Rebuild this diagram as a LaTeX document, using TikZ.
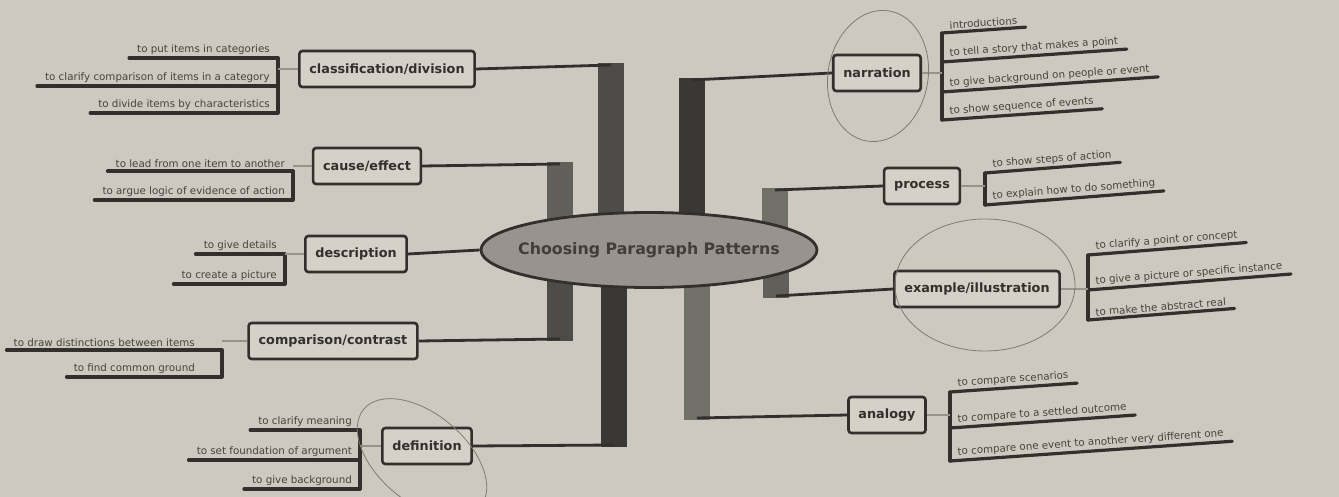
\documentclass[tikz,border=0pt]{standalone}
\usepackage{fontspec}
\setmainfont{DejaVu Sans}
\usetikzlibrary{positioning, shapes.geometric, backgrounds}

\definecolor{paper}{RGB}{205,201,192}
\definecolor{boxfill}{RGB}{213,209,201}
\definecolor{ink}{RGB}{50,47,44}
\definecolor{leafink}{RGB}{70,66,62}
\definecolor{hubfill}{RGB}{152,147,140}
\definecolor{graphite}{RGB}{128,122,116}
\definecolor{trunkA}{RGB}{58,56,53}
\definecolor{trunkB}{RGB}{78,76,72}
\definecolor{trunkC}{RGB}{96,95,90}
\definecolor{trunkD}{RGB}{112,111,104}

\tikzset{
  topic/.style={draw=ink, line width=2.6pt, fill=boxfill, rounded corners=3pt,
    minimum height=36pt, inner xsep=10pt, text=ink,
    font=\fontsize{12.8}{14}\selectfont\bfseries},
  leafL/.style={anchor=south east, inner xsep=8pt, inner ysep=3pt, text=leafink,
    font=\fontsize{10.3}{12}\selectfont},
  leafR/.style={leafL, anchor=south west},
  uline/.style={draw=ink, line width=3.2pt, line cap=round},
  branch/.style={draw=ink, line width=2.8pt},
  trunk/.style={line width=26pt},
  hint/.style={draw=graphite!70!paper, line width=1.2pt},
  ring/.style={draw=graphite, line width=0.8pt},
}

\begin{document}
\begin{tikzpicture}[x=1pt, y=-1pt]

% Paper
\begin{scope}[on background layer]
\fill[paper] (0,0) rectangle (1339,497);
\end{scope}
\useasboundingbox (0,0) rectangle (1339,497);

% Central topic
\node[ellipse, draw=ink, line width=2.8pt, fill=hubfill, inner xsep=-12pt,
  inner ysep=0pt, minimum height=75pt, text=ink!85!hubfill,
  font=\fontsize{15.8}{18}\selectfont\bfseries] (root) at (649,250) {Choosing Paragraph Patterns};

% Topics, left
\node[topic] (cls) at (387,69) {classification/division};
\node[topic] (cau) at (367,166) {cause/effect};
\node[topic] (des) at (356,254) {description};
\node[topic] (cmp) at (333,341) {comparison/contrast};
\node[topic] (def) at (427,446) {definition};

% Topics, right
\node[topic] (nar) at (877,73) {narration};
\node[topic] (pro) at (922,186) {process};
\node[topic] (exa) at (977,289) {example/illustration};
\node[topic] (ana) at (887,415) {analogy};

% Trunk ends
\coordinate (kCls) at (611,65);
\coordinate (kCau) at (560,164);
\coordinate (kCmp) at (560,339);
\coordinate (kDef) at (614,445);
\coordinate (kNar) at (692,80);
\coordinate (kPro) at (775,190);
\coordinate (kExa) at (776,296);
\coordinate (kAna) at (697,418);

% Trunks and branches
\begin{scope}[on background layer]
\draw[trunk, draw=trunkB] ([yshift=1.5pt]kCls) -- (kCls |- root);
\draw[trunk, draw=trunkC] ([yshift=1.5pt]kCau) -- (kCau |- root);
\draw[trunk, draw=trunkB] ([yshift=-1.5pt]kCmp) -- (kCmp |- root);
\draw[trunk, draw=trunkA] ([yshift=-1.5pt]kDef) -- (kDef |- root);
\draw[trunk, draw=trunkA] ([yshift=1.5pt]kNar) -- (kNar |- root);
\draw[trunk, draw=trunkD] ([yshift=1.5pt]kPro) -- (kPro |- root);
\draw[trunk, draw=trunkC] ([yshift=-1.5pt]kExa) -- (kExa |- root);
\draw[trunk, draw=trunkD] ([yshift=-1.5pt]kAna) -- (kAna |- root);
\draw[branch] (kCls) -- (cls.east);
\draw[branch] (kCau) -- (cau.east);
\draw[branch] (root.west) -- (des.east);
\draw[branch] (kCmp) -- (cmp.east);
\draw[branch] (kDef) -- (def.east);
\draw[branch] (kNar) -- (nar.west);
\draw[branch] (kPro) -- (pro.west);
\draw[branch] (kExa) -- (exa.west);
\draw[branch] (kAna) -- (ana.west);
\end{scope}

% Leaves: classification/division
\foreach \y/\txt [count=\i] in {58/to put items in categories, 86/to clarify comparison of items in a category, 113/to divide items by characteristics} {
  \node[leafL] (cls\i) at (278,\y) {\txt};
  \draw[uline] (cls\i.south west) -- (cls\i.south east);
}
\draw[uline] (cls1.south east) -- (cls3.south east);
\draw[hint] (cls.west) -- (cls.west -| cls1.south east);

% Leaves: cause/effect
\foreach \y/\txt [count=\i] in {171/to lead from one item to another, 200/to argue logic of evidence of action} {
  \node[leafL] (cau\i) at (293,\y) {\txt};
  \draw[uline] (cau\i.south west) -- (cau\i.south east);
}
\draw[uline] (cau1.south east) -- (cau2.south east);
\draw[hint] (cau.west) -- (cau.west -| cau1.south east);

% Leaves: description
\foreach \y/\txt [count=\i] in {254/to give details, 284/to create a picture} {
  \node[leafL] (des\i) at (285,\y) {\txt};
  \draw[uline] (des\i.south west) -- (des\i.south east);
}
\draw[uline] (des1.south east) -- (des2.south east);
\draw[hint] (des.west) -- (des.west -| des1.south east);

% Leaves: comparison/contrast
\coordinate (cmpK) at (222,341);
\foreach \y/\txt [count=\i] in {350/to draw distinctions between items, 377/to find common ground} {
  \node[leafL, inner xsep=7pt, xshift=-20pt] (cmp\i) at (222,\y) {\txt};
  \draw[uline] (cmp\i.south west) -- (cmp\i.south east -| cmpK);
}
\draw[uline] (cmp1.south east -| cmpK) -- (cmp2.south east -| cmpK);
\draw[hint] (cmp.west) -- (cmpK);

% Leaves: definition
\foreach \y/\txt [count=\i] in {430/to clarify meaning, 460/to set foundation of argument, 489/to give background} {
  \node[leafL] (def\i) at (360,\y) {\txt};
  \draw[uline] (def\i.south west) -- (def\i.south east);
}
\draw[uline] (def1.south east) -- (def3.south east);
\draw[hint] (def.west) -- (def.west -| def1.south east);

% Leaves: narration
\foreach \y/\txt [count=\i] in {33/introductions, 62/to tell a story that makes a point, 92/to give background on people or event, 120/to show sequence of events} {
  \node[leafR, rotate=4] (nar\i) at (942,\y) {\txt};
  \draw[uline] (nar\i.south west) -- (nar\i.south east);
}
\draw[uline] (nar1.south west) -- (nar4.south west);
\draw[hint] (nar.east) -- (nar.east -| nar1.south west);

% Leaves: process
\foreach \y/\txt [count=\i] in {173/to show steps of action, 205/to explain how to do something} {
  \node[leafR, rotate=4.5] (pro\i) at (985,\y) {\txt};
  \draw[uline] (pro\i.south west) -- (pro\i.south east);
}
\draw[uline] (pro1.south west) -- (pro2.south west);
\draw[hint] (pro.east) -- (pro.east -| pro1.south west);

% Leaves: example/illustration
\foreach \y/\txt [count=\i] in {255/to clarify a point or concept, 290/to give a picture or specific instance, 320/to make the abstract real} {
  \node[leafR, rotate=4.5] (exa\i) at (1088,\y) {\txt};
  \draw[uline] (exa\i.south west) -- (exa\i.south east);
}
\draw[uline] (exa1.south west) -- (exa3.south west);
\draw[hint] (exa.east) -- (exa.east -| exa1.south west);

% Leaves: analogy
\foreach \y/\txt [count=\i] in {392/to compare scenarios, 428/to compare to a settled outcome, 461/to compare one event to another very different one} {
  \node[leafR, rotate=4] (ana\i) at (950,\y) {\txt};
  \draw[uline] (ana\i.south west) -- (ana\i.south east);
}
\draw[uline] (ana1.south west) -- (ana3.south west);
\draw[hint] (ana.east) -- (ana.east -| ana1.south west);

% Pencil rings
\draw[ring, rotate around={-10:(878,76)}] (878,76) ellipse (50 and 66);
\draw[ring] (985,285) ellipse (90 and 66);
\draw[ring, rotate around={-40:(422,458)}] (422,458) ellipse (76 and 44);

\end{tikzpicture}
\end{document}
